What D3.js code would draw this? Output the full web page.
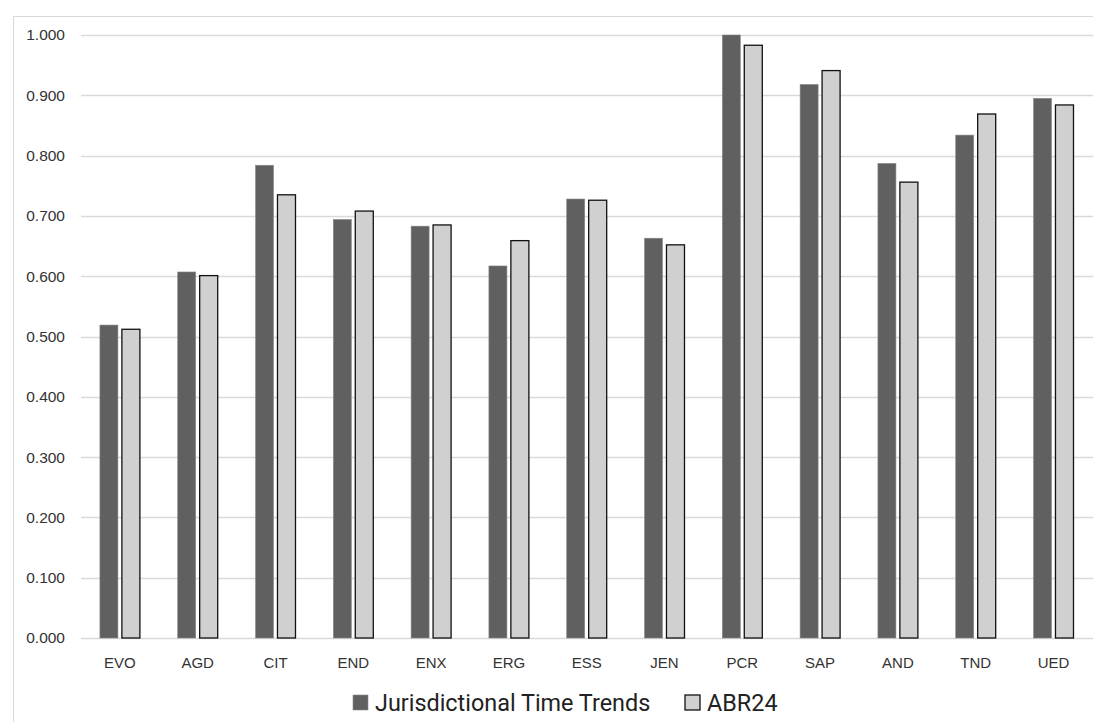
<!DOCTYPE html>
<html>
<head>
<meta charset="utf-8">
<script src="https://cdn.jsdelivr.net/npm/d3@7.9.0/dist/d3.min.js"></script>
<style>
  html, body { margin: 0; padding: 0; background: #fff; overflow: hidden; }
  svg { display: block; overflow: hidden; }
</style>
</head>
<body>
<div id="chart"></div>
<script>
// categories and series
const categories = ["EVO", "AGD", "CIT", "END", "ENX", "ERG", "ESS", "JEN", "PCR", "SAP", "AND", "TND", "UED"];
const seriesNames = ["Jurisdictional Time Trends", "ABR24"];
const jttValues = [0.519, 0.607, 0.784, 0.694, 0.683, 0.617, 0.728, 0.663, 1.000, 0.918, 0.787, 0.834, 0.895];
const abrValues = [0.512, 0.601, 0.735, 0.708, 0.685, 0.659, 0.726, 0.652, 0.983, 0.941, 0.756, 0.869, 0.884];
const yTicks = [0, 0.1, 0.2, 0.3, 0.4, 0.5, 0.6, 0.7, 0.8, 0.9, 1.0];

const width = 1093;
const height = 722;

const rows = categories.map((c, i) => ({ cat: c, values: [jttValues[i], abrValues[i]] }));

const fills = ["#606060", "#d0d0d0"];
const strokes = ["#8a8a8a", "#111111"];

const svg = d3
  .select("#chart")
  .append("svg")
  .attr("width", width)
  .attr("height", height);

// outer chart frame (cropped at right and bottom)
svg
  .append("rect")
  .attr("x", 13.5)
  .attr("y", 16.5)
  .attr("width", 1200)
  .attr("height", 800)
  .attr("fill", "#fff")
  .attr("stroke", "#d9d9d9")
  .attr("stroke-width", 1);

const plot = { left: 81, right: 1092.4, top: 35, bottom: 638 };

const x0 = d3
  .scaleBand()
  .domain(categories)
  .range([plot.left, plot.right])
  .paddingInner(0.486)
  .paddingOuter(0.243);

const x1 = d3
  .scaleBand()
  .domain([0, 1])
  .range([0, x0.bandwidth()])
  .paddingInner(0.18);

const y = d3.scaleLinear().domain([0, 1]).range([plot.bottom, plot.top]);

// gridlines
svg
  .append("g")
  .attr("class", "grid")
  .selectAll("line")
  .data(yTicks)
  .join("line")
  .attr("x1", plot.left)
  .attr("x2", width)
  .attr("y1", (d) => Math.round(y(d)) + 0.5)
  .attr("y2", (d) => Math.round(y(d)) + 0.5)
  .attr("stroke", "#d9d9d9")
  .attr("stroke-width", 1.3);

// y axis labels
const yAxis = d3
  .axisLeft(y)
  .tickValues(yTicks)
  .tickFormat(d3.format(".3f"))
  .tickSize(0)
  .tickPadding(0);

svg
  .append("g")
  .attr("transform", `translate(65,0)`)
  .call(yAxis)
  .call((g) => g.select(".domain").remove())
  .selectAll("text")
  .attr("font-family", "'Liberation Sans', Arial, sans-serif")
  .attr("font-size", 15.5)
  .attr("fill", "#333");

// bars
const groups = svg
  .append("g")
  .attr("class", "bars")
  .selectAll("g")
  .data(rows)
  .join("g")
  .attr("transform", (d) => `translate(${x0(d.cat)},0)`);

groups
  .selectAll("rect")
  .data((d) => d.values.map((v, i) => ({ i, v })))
  .join("rect")
  .attr("x", (d) => x1(d.i))
  .attr("y", (d) => y(d.v))
  .attr("width", x1.bandwidth())
  .attr("height", (d) => y(0) - y(d.v))
  .attr("fill", (d) => fills[d.i])
  .attr("stroke", (d) => strokes[d.i])
  .attr("stroke-width", (d) => (d.i === 0 ? 0.6 : 1.3));

// x axis labels
const xAxis = d3.axisBottom(x0).tickSize(0).tickPadding(0);
svg
  .append("g")
  .attr("transform", `translate(0,${plot.bottom})`)
  .call(xAxis)
  .call((g) => g.select(".domain").remove())
  .selectAll("text")
  .attr("dy", 0)
  .attr("y", 30)
  .attr("font-family", "'Liberation Sans', Arial, sans-serif")
  .attr("font-size", 15)
  .attr("fill", "#333");

// legend
const legendItems = [
  { name: seriesNames[0], box: 353, text: 375 },
  { name: seriesNames[1], box: 685, text: 707 },
];

const legend = svg.append("g").attr("class", "legend");
legendItems.forEach((item, i) => {
  legend
    .append("rect")
    .attr("x", item.box)
    .attr("y", 695)
    .attr("width", 15)
    .attr("height", 15)
    .attr("fill", fills[i])
    .attr("stroke", i === 0 ? "#8a8a8a" : "#111")
    .attr("stroke-width", i === 0 ? 0.6 : 1.3);
  legend
    .append("text")
    .attr("x", item.text)
    .attr("y", 711)
    .attr("font-family", "Roboto, 'Liberation Sans', sans-serif")
    .attr("font-size", 23.4)
    .attr("fill", "#222")
    .text(item.name);
});
</script>
</body>
</html>
